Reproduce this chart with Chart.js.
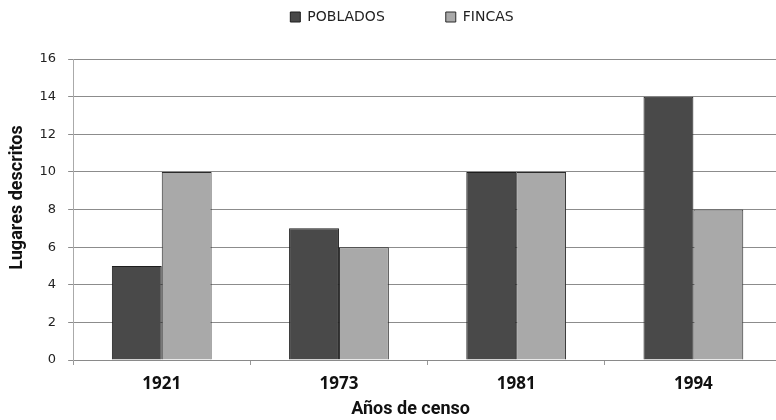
<!DOCTYPE html>
<html lang="es">
<head>
<meta charset="UTF-8">
<title>Lugares descritos por año de censo</title>
<style>
  html, body { margin: 0; padding: 0; background: #fff; overflow: hidden; }
  #wrap { width: 782px; height: 420px; }
</style>
</head>
<body>
<div id="wrap"><canvas id="grafico"></canvas></div>

<script src="https://cdn.jsdelivr.net/npm/chart.js"></script>
<script>
  // datos
  const anios = ['1921', '1973', '1981', '1994'];
  const poblados = [5, 7, 10, 14];
  const fincas = [10, 6, 10, 8];
  const ticksY = [0, 2, 4, 6, 8, 10, 12, 14, 16];

  const fuente = "'DejaVu Sans', sans-serif";
  const fuenteTitulo = "Roboto, sans-serif";
  const fuenteAnios = "'Open Sans', 'DejaVu Sans', sans-serif";

  // desplaza lo que dibuja un metodo (leyenda, titulos de ejes)
  function desplazar(obj, metodo, dx, dy) {
    if (obj['_' + metodo + 'Orig']) return;
    const orig = obj[metodo];
    obj['_' + metodo + 'Orig'] = orig;
    obj[metodo] = function () {
      this.ctx.save();
      this.ctx.translate(dx, dy);
      orig.apply(this, arguments);
      this.ctx.restore();
    };
  }

  // la leyenda usa el mismo padding en horizontal y vertical:
  // se fija su alto y se desplaza el contenido al dibujar
  const ajustes = {
    id: 'ajustes',
    beforeInit(chart) {
      const leyenda = chart.legend;
      const fit = leyenda.fit;
      leyenda.fit = function () {
        fit.call(this);
        this.height = 59;
      };
      desplazar(leyenda, '_draw', 11, -51);
    },
    afterUpdate(chart) {
      desplazar(chart.scales.x, 'drawTitle', -17, -5);
      desplazar(chart.scales.y, 'drawTitle', 3, -12);
    }
  };

  const ctx = document.getElementById('grafico');
  new Chart(ctx, {
    type: 'bar',
    data: {
      labels: anios,
      datasets: [
        {
          label: 'POBLADOS',
          data: poblados,
          backgroundColor: '#494949',
          borderColor: '#1e1e1e',
          borderWidth: 1
        },
        {
          label: 'FINCAS',
          data: fincas,
          backgroundColor: '#a9a9a9',
          borderColor: '#2a2a2a',
          borderWidth: 1
        }
      ]
    },
    plugins: [ajustes],
    options: {
      responsive: true,
      maintainAspectRatio: false,
      animation: false,
      layout: { padding: { left: 0, right: 0, top: 0, bottom: -5 } },
      datasets: {
        bar: { categoryPercentage: 0.563, barPercentage: 1.0 }
      },
      plugins: {
        legend: {
          position: 'top',
          labels: {
            boxWidth: 10,
            boxHeight: 10,
            padding: 61,
            color: '#222',
            font: { family: fuente, size: 14 }
          }
        },
        tooltip: { enabled: false }
      },
      scales: {
        x: {
          grid: { display: true, drawOnChartArea: false, color: '#999', tickLength: 5, offset: true },
          border: { color: '#8a8a8a' },
          ticks: { color: '#111', font: { family: fuenteAnios, size: 17, weight: 'bold' }, padding: 9 },
          title: {
            display: true,
            text: 'Años de censo',
            color: '#111',
            font: { family: fuenteTitulo, size: 18, weight: 'bold' },
            padding: { top: 0, bottom: 0 }
          }
        },
        y: {
          min: 0,
          max: 16,
          afterBuildTicks(escala) {
            escala.ticks = ticksY.map(v => ({ value: v }));
          },
          ticks: { color: '#222', font: { family: fuente, size: 13 }, padding: 12 },
          grid: { color: '#8c8c8c', tickLength: 5 },
          border: { color: '#aaa' },
          title: {
            display: true,
            text: 'Lugares descritos',
            color: '#111',
            font: { family: fuenteTitulo, size: 18, weight: 'bold' },
            padding: { top: 4, bottom: 2 }
          }
        }
      }
    }
  });
</script>
</body>
</html>
